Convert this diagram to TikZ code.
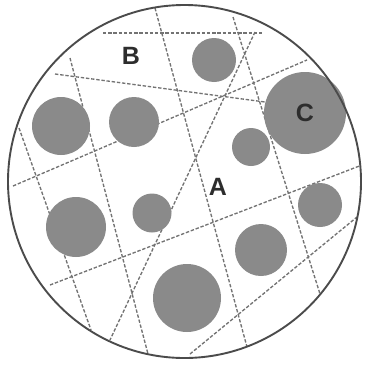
\documentclass[tikz,border=0pt]{standalone}
\usepackage{fontspec}
\setmainfont{Liberation Sans}
\definecolor{discgray}{RGB}{138,138,138}
\definecolor{linegray}{RGB}{115,115,115}
\definecolor{rimgray}{RGB}{75,75,75}
\definecolor{labelgray}{RGB}{45,45,45}
\tikzset{
  disc/.style={fill=discgray},
  cut/.style={draw=linegray, line width=1.35pt, dash pattern=on 3.4pt off 1.8pt},
  rim/.style={draw=rimgray, line width=1.9pt},
  lab/.style={inner sep=0pt, text=labelgray, font=\fontsize{25}{25}\selectfont\bfseries}
}
\begin{document}
\begin{tikzpicture}[x=1pt,y=-1pt]
\useasboundingbox (0,0) rectangle (366,364);
% points of the cutting lines
\coordinate (l1a) at (103,33);  \coordinate (l1b) at (262,33);
\coordinate (l2a) at (55,74);   \coordinate (l2b) at (280,104);
\coordinate (l3a) at (13,186);  \coordinate (l3b) at (307,60);
\coordinate (l4a) at (50,285);  \coordinate (l4b) at (362,165);
\coordinate (l5a) at (190,354); \coordinate (l5b) at (357,217);
\coordinate (a1a) at (19,128);  \coordinate (a1b) at (91,330);
\coordinate (a2a) at (70,58);   \coordinate (a2b) at (148,354);
\coordinate (ba) at (155,8);    \coordinate (bb) at (247,347);
\coordinate (ca) at (233,17);   \coordinate (cb) at (320,294);
\coordinate (da) at (255,32);   \coordinate (db) at (110,340);
\begin{scope}
\clip (184.5,181.5) circle[radius=176pt];
\draw[cut] (l1a) -- (l1b);
\draw[cut] (l2a) -- (l2b);
\draw[cut] (l3a) -- (l3b);
\draw[cut] (l4a) -- (l4b);
\draw[cut] (l5a) -- (l5b);
\draw[cut] (a1a) -- (a1b);
\draw[cut] (a2a) -- (a2b);
\draw[cut] (ba) -- (bb);
\draw[cut] (ca) -- (cb);
\draw[cut] (da) -- (db);
\end{scope}
% discs
\fill[disc] (61,126) circle[radius=29pt];
\fill[disc] (134,122) circle[radius=25pt];
\fill[disc] (214,60) circle[radius=22pt];
\fill[disc] (305,113) circle[radius=41pt];
\fill[disc] (251,147) circle[radius=19pt];
\fill[disc] (76,227) circle[radius=30pt];
\fill[disc] (152,213) circle[radius=19.5pt];
\fill[disc] (187,298) circle[radius=34pt];
\fill[disc] (261,250) circle[radius=26pt];
\fill[disc] (320,205) circle[radius=22pt];
% rim
\draw[rim] (184.5,181.5) circle[radius=176.5pt];
% labels
\node[lab] (B) at (131,56) {B};
\node[lab] (C) at (305,113) {C};
\node[lab] (A) at (218,187) {A};
\end{tikzpicture}
\end{document}
